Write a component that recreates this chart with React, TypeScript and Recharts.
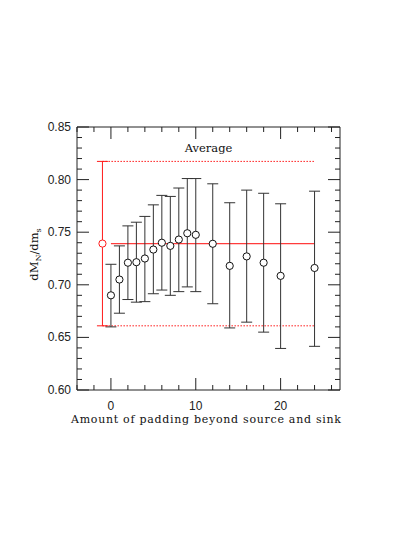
import React from 'react';
import { ComposedChart, Scatter, XAxis, YAxis, ErrorBar, ReferenceLine } from 'recharts';

// ---- data ----
const padding = [0, 1, 2, 3, 4, 5, 6, 7, 8, 9, 10, 12, 14, 16, 18, 20, 24];
const dmValues = [0.690, 0.705, 0.721, 0.7215, 0.725, 0.7335, 0.740, 0.737, 0.743, 0.749, 0.7475, 0.739, 0.718, 0.727, 0.721, 0.7085, 0.716];
const dmUpper = [0.7195, 0.737, 0.756, 0.7595, 0.765, 0.776, 0.785, 0.784, 0.792, 0.801, 0.801, 0.796, 0.778, 0.790, 0.787, 0.777, 0.789];
const dmLower = [0.660, 0.673, 0.686, 0.6835, 0.684, 0.6915, 0.695, 0.690, 0.6935, 0.698, 0.6935, 0.682, 0.659, 0.6645, 0.655, 0.6395, 0.6415];

const avgPadding = -1;
const avgValue = 0.7392;
const avgUpper = 0.8173;
const avgLower = 0.661;
const avgLineStart = 0;
const avgBandStart = -1;
const avgLineEnd = 24;
const avgText = 'Average';

const xTicks = [-4, -2, 0, 2, 4, 6, 8, 10, 12, 14, 16, 18, 20, 22, 24, 26];
const xMajorTicks = [0, 10, 20];
const yTicks = [0.60, 0.61, 0.62, 0.63, 0.64, 0.65, 0.66, 0.67, 0.68, 0.69, 0.70, 0.71, 0.72, 0.73, 0.74, 0.75, 0.76, 0.77, 0.78, 0.79, 0.80, 0.81, 0.82, 0.83, 0.84, 0.85];
const yMajorTicks = [0.60, 0.65, 0.70, 0.75, 0.80, 0.85];
const xDomain = [-4, 27];
const yDomain = [0.6, 0.85];
const xLabel = 'Amount of padding beyond source and sink';

const points = padding.map((x, i) => ({
  x,
  y: dmValues[i],
  err: [dmValues[i] - dmLower[i], dmUpper[i] - dmValues[i]],
}));
const avgPoints = [{ x: avgPadding, y: avgValue, err: [avgValue - avgLower, avgUpper - avgValue] }];

// ---- styles ----
const FRAME = '#222';
const RED = '#ff1a1a';
const TICK_FONT = 'Liberation Sans, Arial, sans-serif';
const LABEL_FONT = 'DejaVu Serif, serif';
const MAJOR = 12;
const MINOR = 5;

const isMajor = (v: number, list: number[]) => list.some((m) => Math.abs(m - v) < 1e-6);

const BottomTick = (props: any) => {
  const { x, y, payload } = props;
  const major = isMajor(payload.value, xMajorTicks);
  return (
    <g>
      <line x1={x} x2={x} y1={y} y2={y - (major ? MAJOR : MINOR)} stroke={FRAME} strokeWidth={1} />
      {major && (
        <text x={x} y={y + 16} textAnchor="middle" dominantBaseline="central" fontFamily={TICK_FONT} fontSize={12} fill="#222">
          {payload.value}
        </text>
      )}
    </g>
  );
};

const TopTick = (props: any) => {
  const { x, y, payload } = props;
  const major = isMajor(payload.value, xMajorTicks);
  return <line x1={x} x2={x} y1={y} y2={y + (major ? MAJOR : MINOR)} stroke={FRAME} strokeWidth={1} />;
};

const LeftTick = (props: any) => {
  const { x, y, payload } = props;
  const major = isMajor(payload.value, yMajorTicks);
  return (
    <g>
      <line x1={x} x2={x + (major ? MAJOR : MINOR)} y1={y} y2={y} stroke={FRAME} strokeWidth={1} />
      {major && (
        <text x={x - 6} y={y} textAnchor="end" dominantBaseline="central" fontFamily={TICK_FONT} fontSize={12} fill="#222">
          {Number(payload.value).toFixed(2)}
        </text>
      )}
    </g>
  );
};

const RightTick = (props: any) => {
  const { x, y, payload } = props;
  const major = isMajor(payload.value, yMajorTicks);
  return <line x1={x} x2={x - (major ? MAJOR : MINOR)} y1={y} y2={y} stroke={FRAME} strokeWidth={1} />;
};

const XLabel = (props: any) => {
  const { x, y, width } = props.viewBox;
  return (
    <text
      x={x + width / 2 - 2.5}
      y={y + 33}
      textAnchor="middle"
      fontFamily={LABEL_FONT}
      fontSize={11}
      fill="#111"
      textLength={270}
      lengthAdjust="spacing"
    >
      {xLabel}
    </text>
  );
};

const YLabel = (props: any) => {
  const { x, y, height } = props.viewBox;
  const cx = x - 38;
  const cy = y + height / 2 - 4;
  return (
    <text transform={`rotate(-90 ${cx} ${cy})`} x={cx} y={cy} textAnchor="middle" fontFamily={LABEL_FONT} fontSize={11.5} fill="#111">
      dM
      <tspan dy={3} fontSize={8}>N</tspan>
      <tspan dy={-3}>/dm</tspan>
      <tspan dy={3} fontSize={8}>s</tspan>
    </text>
  );
};

const BlackCircle = (props: any) => (
  <circle cx={props.cx} cy={props.cy} r={3.6} fill="#fff" stroke="#111" strokeWidth={1} />
);
const RedCircle = (props: any) => (
  <circle cx={props.cx} cy={props.cy} r={3.6} fill="#fff" stroke={RED} strokeWidth={1} />
);

export default function App() {
  return (
    <ComposedChart width={407} height={529} margin={{ top: 118, right: 74, bottom: 146, left: 68 }}>
      <XAxis
        xAxisId={0}
        type="number"
        dataKey="x"
        domain={xDomain}
        ticks={xTicks}
        interval={0}
        allowDataOverflow
        height={1}
        tickSize={0}
        tickMargin={0}
        tickLine={false}
        axisLine={{ stroke: FRAME, strokeWidth: 1 }}
        tick={<BottomTick />}
        label={<XLabel />}
      />
      <XAxis
        xAxisId="top"
        orientation="top"
        type="number"
        dataKey="x"
        domain={xDomain}
        ticks={xTicks}
        interval={0}
        allowDataOverflow
        height={1}
        tickSize={0}
        tickMargin={0}
        tickLine={false}
        axisLine={{ stroke: FRAME, strokeWidth: 1 }}
        tick={<TopTick />}
      />
      <YAxis
        yAxisId={0}
        type="number"
        dataKey="y"
        domain={yDomain}
        ticks={yTicks}
        interval={0}
        allowDataOverflow
        width={1}
        tickSize={0}
        tickMargin={0}
        tickLine={false}
        axisLine={{ stroke: FRAME, strokeWidth: 1 }}
        tick={<LeftTick />}
        label={<YLabel />}
      />
      <YAxis
        yAxisId="right"
        orientation="right"
        type="number"
        dataKey="y"
        domain={yDomain}
        ticks={yTicks}
        interval={0}
        allowDataOverflow
        width={1}
        tickSize={0}
        tickMargin={0}
        tickLine={false}
        axisLine={{ stroke: FRAME, strokeWidth: 1 }}
        tick={<RightTick />}
      />
      <ReferenceLine
        xAxisId={0}
        yAxisId={0}
        segment={[{ x: avgBandStart, y: avgUpper }, { x: avgLineEnd, y: avgUpper }]}
        stroke={RED}
        strokeWidth={1}
        strokeDasharray="1.5 1.5"
        label={{ value: avgText, position: 'top', offset: 9, fill: '#111', fontFamily: LABEL_FONT, fontSize: 11.5 }}
      />
      <ReferenceLine
        xAxisId={0}
        yAxisId={0}
        segment={[{ x: avgBandStart, y: avgLower }, { x: avgLineEnd, y: avgLower }]}
        stroke={RED}
        strokeWidth={1}
        strokeDasharray="1.5 1.5"
      />
      <ReferenceLine
        xAxisId={0}
        yAxisId={0}
        segment={[{ x: avgLineStart, y: avgValue }, { x: avgLineEnd, y: avgValue }]}
        stroke={RED}
        strokeOpacity={0.85}
        strokeWidth={1.2}
      />
      <Scatter xAxisId={0} yAxisId={0} data={points} dataKey="y" shape={<BlackCircle />} isAnimationActive={false}>
        <ErrorBar dataKey="err" direction="y" width={5.5} stroke="#333" strokeWidth={1} isAnimationActive={false} />
      </Scatter>
      <Scatter xAxisId={0} yAxisId={0} data={avgPoints} dataKey="y" shape={<RedCircle />} isAnimationActive={false}>
        <ErrorBar dataKey="err" direction="y" width={5.5} stroke={RED} strokeWidth={1} isAnimationActive={false} />
      </Scatter>
    </ComposedChart>
  );
}
